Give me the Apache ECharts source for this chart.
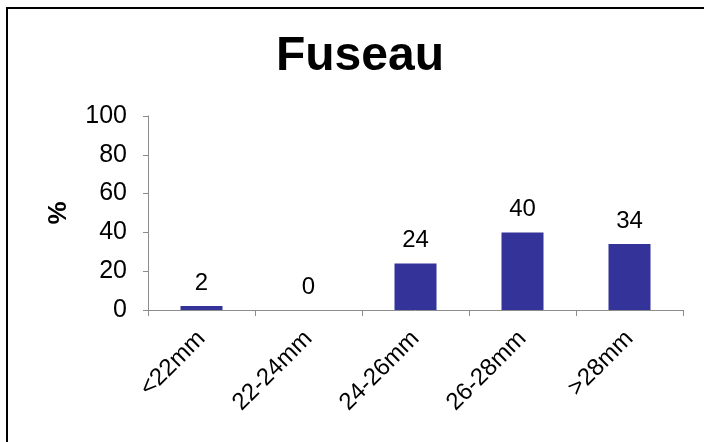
<!DOCTYPE html>
<html>
<head>
<meta charset="utf-8">
<script src="https://cdn.jsdelivr.net/npm/echarts@6/dist/echarts.min.js"></script>
<style>
  html, body { margin: 0; padding: 0; background: #fff; }
  #chart { width: 704px; height: 442px; }
</style>
</head>
<body>
<div id="chart"></div>
<script>
// Fuseau - distribution by size class (%)
const categories = ['<22mm', '22-24mm', '24-26mm', '26-28mm', '>28mm'];
const values = [2, 0, 24, 40, 34];
const yTicks = [0, 20, 40, 60, 80, 100];

const chart = echarts.init(document.getElementById('chart'));
const FONT = 'Arial, "Liberation Sans", sans-serif';

chart.setOption({
  backgroundColor: '#ffffff',
  animation: false,
  title: {
    text: 'Fuseau',
    left: 355,
    top: 28,
    textAlign: 'center',
    textStyle: { fontFamily: FONT, fontSize: 48, fontWeight: 'bold', color: '#000' }
  },
  graphic: [
    {
      type: 'rect',
      shape: { x: 7, y: 8, width: 760, height: 500 },
      style: { fill: 'none', stroke: '#000', lineWidth: 2 },
      silent: true
    }
  ],
  grid: { left: 148, right: 21, top: 116, bottom: 132 },
  xAxis: {
    type: 'category',
    data: categories,
    axisLine: { lineStyle: { color: '#8c8c8c', width: 1 } },
    axisTick: { show: true, length: 6, lineStyle: { color: '#8c8c8c' } },
    axisLabel: {
      rotate: 45,
      interval: 0,
      margin: 25,
      color: '#000',
      fontFamily: FONT,
      fontSize: 24
    }
  },
  yAxis: {
    type: 'value',
    min: 0,
    max: yTicks[yTicks.length - 1],
    interval: 20,
    name: '%',
    nameLocation: 'middle',
    nameRotate: 90,
    nameGap: 76,
    nameTextStyle: { fontFamily: FONT, fontSize: 26, fontWeight: 'bold', color: '#000' },
    axisLine: { show: true, lineStyle: { color: '#8c8c8c', width: 1 } },
    axisTick: { show: true, length: 5, lineStyle: { color: '#8c8c8c' } },
    splitLine: { show: false },
    axisLabel: { color: '#000', fontFamily: FONT, fontSize: 25, margin: 21 }
  },
  series: [
    {
      type: 'bar',
      data: values,
      barWidth: 42,
      itemStyle: { color: '#333399' },
      label: {
        show: true,
        position: 'top',
        distance: 11,
        color: '#000',
        fontFamily: FONT,
        fontSize: 24
      }
    }
  ]
});
</script>
</body>
</html>
